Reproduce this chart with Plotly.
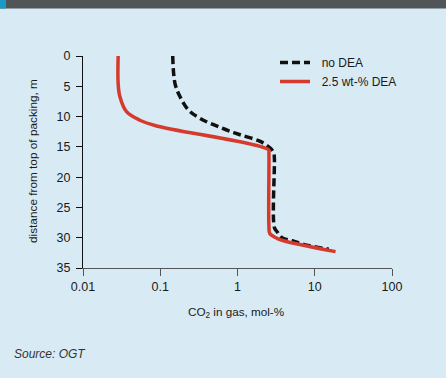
import plotly.graph_objects as go

# Data
red_x = [0.0285, 0.0285, 0.030, 0.0366, 0.0544, 0.0897, 2.53, 2.55, 2.55, 2.62, 3.25, 3.95, 18.6]
red_y = [0.0, 4.5, 6.7, 9.2, 10.6, 11.55, 15.5, 16.0, 28.0, 29.3, 30.1, 30.5, 32.3]

blk_x = [0.145, 0.155, 0.180, 0.231, 0.328, 0.596, 1.08, 1.97, 2.65, 2.94, 3.0, 3.0, 3.25, 3.77, 5.08, 7.2, 15.2]
blk_y = [0.0, 4.5, 6.7, 8.9, 10.3, 11.8, 13.0, 14.1, 15.2, 16.0, 16.8, 28.3, 29.0, 30.0, 30.5, 31.1, 31.9]

x_ticks = [0.01, 0.1, 1, 10, 100]
x_ticklabels = ["0.01", "0.1", "1", "10", "100"]
y_ticks = [0, 5, 10, 15, 20, 25, 30, 35]

BG = "#d8ebf4"
FONT = "Liberation Sans, Arial, sans-serif"

fig = go.Figure()
fig.add_trace(go.Scatter(x=blk_x, y=blk_y, mode="lines", name="\u00a0\u00a0no DEA",
                         line=dict(color="#111111", width=3.5, dash="8px,4px"),
                         line_shape="spline"))
fig.add_trace(go.Scatter(x=red_x, y=red_y, mode="lines", name="\u00a0\u00a02.5 wt-% DEA",
                         line=dict(color="#d63a2c", width=3.5),
                         line_shape="spline"))

L, R, T, B = 83, 54, 56, 110
W, H = 446, 378
pw, ph = W - L - R, H - T - B

def px(xp):
    return (xp - L) / pw

def py(yp):
    return (H - B - yp) / ph

fig.update_layout(
    width=W, height=H,
    margin=dict(l=L, r=R, t=T, b=B),
    paper_bgcolor=BG, plot_bgcolor=BG,
    font=dict(family=FONT, size=12.5, color="#1a1a1a"),
    showlegend=True,
    legend=dict(x=px(275), y=py(48), xanchor="left", yanchor="top",
                bgcolor="rgba(0,0,0,0)", font=dict(size=12, color="#1a1a1a")),
    xaxis=dict(type="log", range=[-2, 2], tickvals=x_ticks, ticktext=x_ticklabels,
               showgrid=False, zeroline=False, showline=True, linecolor="#555555",
               linewidth=1.2, ticks="outside", ticklen=7, tickcolor="#555555",
               tickfont=dict(size=12.5)),
    yaxis=dict(range=[35, 0], tickvals=y_ticks, showgrid=False, zeroline=False,
               showline=True, linecolor="#111111", linewidth=1.2, ticks="outside",
               ticklen=6, tickcolor="#111111", tickfont=dict(size=12.5),
               ticklabelstandoff=3),
    shapes=[
        dict(type="rect", xref="paper", yref="paper", x0=px(0), x1=px(W), y0=py(0), y1=py(8.5),
             fillcolor="#515557", line=dict(width=0), layer="above"),
        dict(type="rect", xref="paper", yref="paper", x0=px(0), x1=px(6), y0=py(0), y1=py(8.5),
             fillcolor="#1a9bc4", line=dict(width=0), layer="above"),
    ],
    annotations=[
        dict(text="CO<sub>2</sub> in gas, mol-%", xref="paper", yref="paper",
             x=px(235.5), y=py(312), xanchor="center", yanchor="middle",
             showarrow=False, font=dict(size=11.7)),
        dict(text="distance from top of packing, m", xref="paper", yref="paper",
             x=px(33), y=py(161), xanchor="center", yanchor="middle", textangle=-90,
             showarrow=False, font=dict(size=11.8)),
        dict(text="<i>Source: OGT</i>", xref="paper", yref="paper",
             x=px(12), y=py(354), xanchor="left", yanchor="middle",
             showarrow=False, font=dict(size=12, color="#333333")),
    ],
)

fig.write_html("out.html", config={"displayModeBar": False},
               post_script="document.body.style.margin='0';document.body.style.overflow='hidden';")
